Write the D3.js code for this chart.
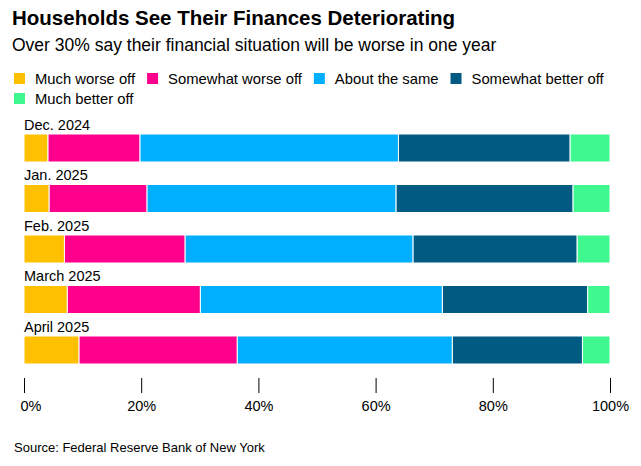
<!DOCTYPE html>
<html><head><meta charset="utf-8">
<script src="https://cdn.jsdelivr.net/npm/d3@7"></script>
<style>
body{margin:0;background:#fff;}
svg{display:block;font-family:"Liberation Sans",Arial,Helvetica,sans-serif;}
</style></head>
<body>
<svg id="chart" width="641" height="466"></svg>
<script>
const categories = ["Dec. 2024","Jan. 2025","Feb. 2025","March 2025","April 2025"];
const seriesNames = ["Much worse off","Somewhat worse off","About the same","Somewhat better off","Much better off"];
const muchWorse     = [4.1, 4.3, 6.9, 7.4, 9.4];
const somewhatWorse = [15.7, 16.7, 20.6, 22.7, 27.0];
const aboutSame     = [44.1, 42.5, 38.9, 41.3, 36.7];
const somewhatBetter= [29.3, 30.2, 28.0, 24.8, 22.2];
const muchBetter    = [6.8, 6.3, 5.6, 3.8, 4.7];
const tickValues = [0,20,40,60,80,100];
const colors = ["#ffc000","#ff008c","#00afff","#015a82","#3ff890"];

const table = categories.map((c,i)=>({cat:c,
  "Much worse off":muchWorse[i],"Somewhat worse off":somewhatWorse[i],
  "About the same":aboutSame[i],"Somewhat better off":somewhatBetter[i],
  "Much better off":muchBetter[i]}));

const svg = d3.select("#chart");
const x = d3.scaleLinear().domain([0,100]).range([24,610]);
const y = d3.scaleBand().domain(categories).range([134,364]).paddingInner(0.4455).paddingOuter(0);
const color = d3.scaleOrdinal().domain(seriesNames).range(colors);

// Title
svg.append("text").attr("x",12).attr("y",25).attr("font-size",20.5).attr("font-weight","bold").attr("fill","#000")
  .text("Households See Their Finances Deteriorating");
svg.append("text").attr("x",12).attr("y",51).attr("font-size",17.5).attr("fill","#000")
  .text("Over 30% say their financial situation will be worse in one year");

// Legend
const legendRows = [[0,1,2,3],[4]];
legendRows.forEach((row,ri)=>{
  let cx = 14;
  const ly = 73 + ri*20;
  row.forEach(si=>{
    const g = svg.append("g");
    g.append("rect").attr("x",cx).attr("y",ly).attr("width",11).attr("height",11).attr("fill",colors[si]);
    const t = g.append("text").attr("x",cx+21).attr("y",ly+10.5).attr("font-size",14.8).attr("fill","#000").text(seriesNames[si]);
    cx += 21 + t.node().getComputedTextLength() + 12;
  });
});

// Stack
const stack = d3.stack().keys(seriesNames);
const series = stack(table);
svg.append("g").selectAll("g").data(series).join("g")
  .attr("fill",d=>color(d.key))
  .selectAll("rect").data(d=>d).join("rect")
  .attr("x",d=>x(d[0]))
  .attr("y",d=>y(d.data.cat))
  .attr("width",d=>x(d[1])-x(d[0]))
  .attr("height",y.bandwidth())
  .attr("stroke","#fff").attr("stroke-width",1);

// Category labels
svg.append("g").selectAll("text").data(categories).join("text")
  .attr("x",24).attr("y",d=>y(d)-4)
  .attr("font-size",14.5).attr("fill","#000").text(d=>d);

// Axis
const axis = d3.axisBottom(x).tickValues(tickValues).tickSize(15).tickFormat(d=>d+"%");
const ag = svg.append("g").attr("transform","translate(0,378)").call(axis);
ag.select(".domain").remove();
ag.selectAll(".tick line").attr("stroke","#000");
ag.selectAll(".tick text").attr("font-size",14.5).attr("fill","#000").attr("font-family","'Liberation Sans',Arial,sans-serif").attr("dy",0).attr("y",33);
ag.selectAll(".tick text").filter(d=>d===0).attr("text-anchor","start").attr("dx",-4);

// Source
svg.append("text").attr("x",14).attr("y",452).attr("font-size",13).attr("fill","#000")
  .text("Source: Federal Reserve Bank of New York");
</script>
</body></html>
